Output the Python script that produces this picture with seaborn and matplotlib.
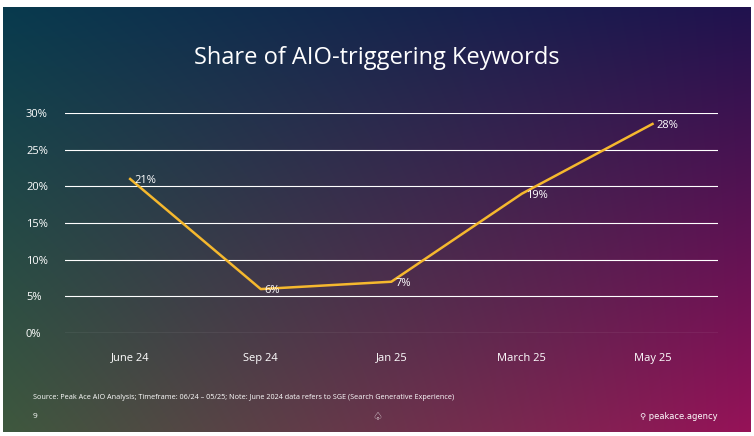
import numpy as np
import matplotlib
matplotlib.use("Agg")
import matplotlib.pyplot as plt
import seaborn as sns
import pandas as pd

categories = ["June 24", "Sep 24", "Jan 25", "March 25", "May 25"]
values = [21, 6, 7, 19, 28.5]
labels = ["21%", "6%", "7%", "19%", "28%"]
yticks = [0, 5, 10, 15, 20, 25, 30]

plt.rcParams["font.family"] = "Open Sans"
fig = plt.figure(figsize=(7.54, 4.36), dpi=100)
fig.patch.set_facecolor("white")

bg = fig.add_axes([0.004, 0.01, 0.992, 0.975])
H, W = 200, 300
tl = np.array([8, 58, 78]) / 255
tr = np.array([32, 18, 78]) / 255
bl = np.array([62, 88, 62]) / 255
br = np.array([150, 18, 88]) / 255
u = np.linspace(0, 1, W)[None, :, None]
v = np.linspace(0, 1, H)[:, None, None]
img = (1 - v) * ((1 - u) * tl + u * tr) + v * ((1 - u) * bl + u * br)
bg.imshow(img, aspect="auto", extent=[0, 1, 0, 1])
bg.set_axis_off()
bg.text(0.5, 0.878, "Share of AIO-triggering Keywords", color="white", fontsize=17, ha="center", va="center")
bg.text(0.04, 0.08, "Source: Peak Ace AIO Analysis; Timeframe: 06/24 – 05/25; Note: June 2024 data refers to SGE (Search Generative Experience)",
        color="white", fontsize=5.2, va="center")
bg.text(0.04, 0.035, "9", color="white", fontsize=6, va="center")
bg.text(0.5, 0.035, "♤", color="white", fontsize=8, ha="center", va="center", family="DejaVu Sans")
bg.text(0.955, 0.035, "⚲ peakace.agency", color="white", fontsize=6, ha="right", va="center", family="DejaVu Sans")

ax = fig.add_axes([0.086, 0.236, 0.866, 0.505])
ax.set_facecolor("none")
df = pd.DataFrame({"cat": categories, "val": values})
sns.lineplot(data=df, x="cat", y="val", ax=ax, color="#f5b82e", linewidth=1.8, sort=False)
for i, (val, lab) in enumerate(zip(values, labels)):
    ax.text(i + 0.03, val - 0.2, lab, color="white", fontsize=8, va="center")
ax.set_ylim(0, 30)
ax.set_xlim(-0.5, 4.5)
ax.set_yticks(yticks)
ax.set_yticklabels([f"{t}%" for t in yticks], color="white", fontsize=8)
ax.tick_params(axis="x", colors="white", labelsize=8, length=0, pad=14)
ax.tick_params(axis="y", length=0, pad=28)
for t in ax.get_yticklabels():
    t.set_ha("left")
ax.grid(axis="y", color="white", linewidth=0.8)
ax.set_axisbelow(True)
for s in ax.spines.values():
    s.set_visible(False)
ax.set_xlabel("")
ax.set_ylabel("")
fig.savefig("out.png", dpi=100)
